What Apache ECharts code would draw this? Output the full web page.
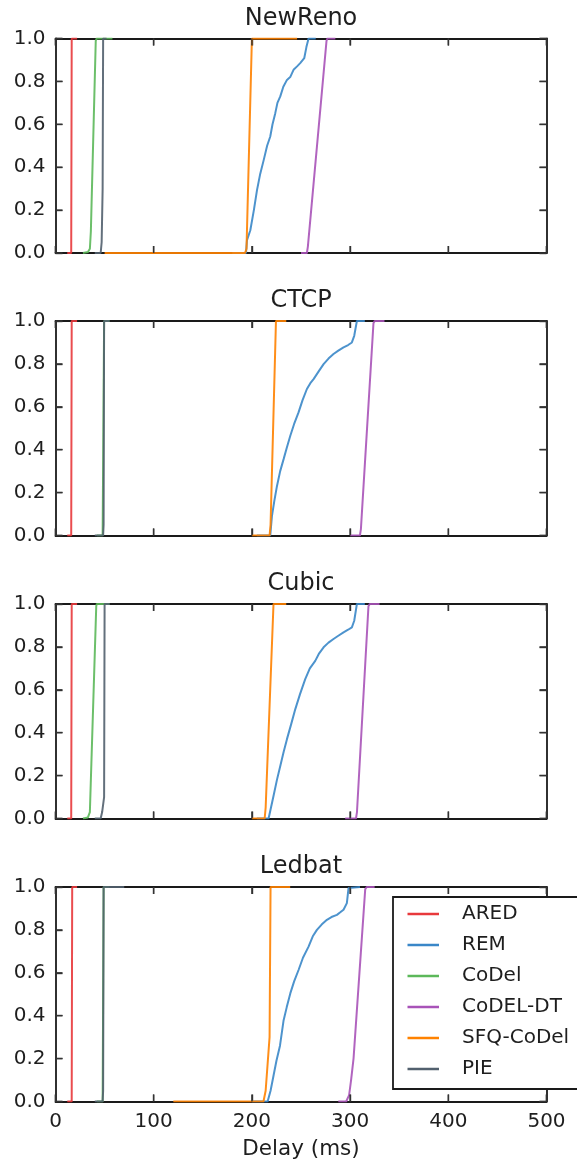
<!DOCTYPE html>
<html>
<head>
<meta charset="utf-8">
<script src="https://cdn.jsdelivr.net/npm/echarts@6/dist/echarts.min.js"></script>
<style>
html,body{margin:0;padding:0;background:#fff;}
#chart{width:577px;height:1165px;}
</style>
</head>
<body>
<div id="chart"></div>
<script>
// ---------- DATA ----------
const panelTitles = ['NewReno', 'CTCP', 'Cubic', 'Ledbat'];
const seriesNames = ['ARED', 'REM', 'CoDel', 'CoDEL-DT', 'SFQ-CoDel', 'PIE'];
const xTicks = [0, 100, 200, 300, 400, 500];
const yTicks = [0.0, 0.2, 0.4, 0.6, 0.8, 1.0];
const xLabel = 'Delay (ms)';

// [delay (ms), CDF]
const newrenoARED = [[12,0],[16,0],[16.5,1],[22,1]];
const newrenoREM = [[180,0],[194,0],[195,0.06],[198.4,0.106],[202,0.2],[205.2,0.293],[208.5,0.37],[212,0.433],[215.5,0.5],[218.7,0.543],[221,0.6],[223.8,0.652],[226,0.7],[228.9,0.73],[232,0.775],[235.7,0.807],[239,0.82],[242.4,0.854],[246,0.87],[249.2,0.885],[253.3,0.908],[255.5,0.96],[257.7,1],[265,1]];
const newrenoCoDel = [[28,0],[33,0.005],[35,0.02],[36,0.1],[41,0.99],[42,1],[58,1]];
const newrenoCoDELDT = [[250,0],[256,0],[257,0.03],[276,0.99],[277,1],[285,1]];
const newrenoSFQ = [[50,0],[193,0],[194.5,0.02],[200,1],[246,1]];
const newrenoPIE = [[40,0],[46,0],[47,0.05],[48,0.3],[48.5,1],[52,1]];

const ctcpARED = [[12,0],[16,0],[16.5,1],[22,1]];
const ctcpREM = [[205,0],[218.7,0],[220.4,0.09],[222.8,0.16],[225.5,0.23],[228.8,0.3],[232.3,0.356],[235.6,0.41],[239.1,0.465],[243,0.52],[247.5,0.574],[251.5,0.63],[256,0.683],[259.5,0.71],[262.8,0.729],[268,0.765],[273,0.799],[278,0.825],[283.1,0.846],[288,0.862],[293.3,0.877],[298,0.888],[301.8,0.9],[304.2,0.931],[306.9,1],[315,1]];
const ctcpCoDel = [[42,0],[48,0],[49.5,1],[55,1]];
const ctcpCoDELDT = [[300,0],[310,0],[311,0.03],[323.8,0.99],[325,1],[335,1]];
const ctcpSFQ = [[200,0],[218,0],[219,0.05],[224.5,1],[235,1]];
const ctcpPIE = [[40,0],[48.5,0],[49,0.05],[49.5,1],[55,1]];

const cubicARED = [[12,0],[16,0],[16.5,1],[22,1]];
const cubicREM = [[205,0],[217,0],[222,0.105],[225.5,0.18],[228.9,0.245],[232.3,0.31],[235.7,0.37],[240,0.44],[244.2,0.51],[249,0.58],[254.3,0.65],[259,0.7],[264.5,0.735],[268.5,0.77],[273,0.798],[278,0.82],[283.1,0.837],[288,0.852],[293.3,0.868],[298,0.88],[301.8,0.891],[304.2,0.922],[306.9,1],[315,1]];
const cubicCoDel = [[28,0],[33,0.005],[35,0.03],[41.5,0.99],[42,1],[55,1]];
const cubicCoDELDT = [[295,0],[306,0],[307,0.03],[318.7,0.99],[320,1],[330,1]];
const cubicSFQ = [[200,0],[213,0],[214,0.05],[222,1],[235,1]];
const cubicPIE = [[40,0],[46,0],[47.5,0.03],[49.5,0.1],[50,1],[55,1]];

const ledbatARED = [[12,0],[16.5,0],[17,1],[22,1]];
const ledbatREM = [[200,0],[216,0],[219,0.05],[222,0.12],[225,0.19],[228.6,0.26],[232.3,0.379],[235.5,0.44],[239.1,0.504],[243,0.56],[247.5,0.613],[252,0.67],[257.7,0.722],[262,0.77],[266.2,0.8],[271,0.825],[276.4,0.847],[281,0.86],[286.6,0.87],[290,0.882],[293.3,0.894],[296.7,0.925],[298.4,0.995],[299,1],[310,1]];
const ledbatCoDel = [[42,0],[48,0],[49,1],[55,1]];
const ledbatCoDELDT = [[288,0],[296,0],[299,0.03],[301,0.1],[303.5,0.2],[315.4,0.99],[317,1],[325,1]];
const ledbatSFQ = [[120,0],[211.8,0],[214,0.05],[218,0.3],[219,1],[239,1]];
const ledbatPIE = [[40,0],[48,0],[48.5,0.05],[49,1],[70,1]];

const panelData = [
  [newrenoARED, newrenoREM, newrenoCoDel, newrenoCoDELDT, newrenoSFQ, newrenoPIE],
  [ctcpARED, ctcpREM, ctcpCoDel, ctcpCoDELDT, ctcpSFQ, ctcpPIE],
  [cubicARED, cubicREM, cubicCoDel, cubicCoDELDT, cubicSFQ, cubicPIE],
  [ledbatARED, ledbatREM, ledbatCoDel, ledbatCoDELDT, ledbatSFQ, ledbatPIE]
];

// ---------- STYLE ----------
const colors = ['#e8393c', '#3a87c8', '#5cb85a', '#a853b8', '#ff8200', '#52606e'];
const FONT = 'DejaVu Sans';
const TXT = '#1e1e1e';
const gridTops = [38.5, 321, 604, 887];
const gridH = 214.5;
const gridLeft = 55.5, gridRight = 30.5;
const TICK_LEN = 7;

const chart = echarts.init(document.getElementById('chart'));

const grids = [], xAxes = [], yAxes = [], series = [], graphics = [];
function mkLine() { return {show: true, onZero: false, lineStyle: {color: '#1a1a1a', width: 1.8}}; }
function mkTick() { return {show: true, inside: true, length: TICK_LEN, lineStyle: {color: '#333333', width: 1.4}}; }
const xMin = xTicks[0], xMax = xTicks[xTicks.length - 1], xInt = xTicks[1] - xTicks[0];
const yMin = yTicks[0], yMax = yTicks[yTicks.length - 1], yInt = 0.2;

// tick marks on all four sides: [x, y, side] side 0=bottom 1=top 2=left 3=right
const tickMarks = [];
xTicks.forEach(v => { tickMarks.push([v, yMin, 0]); tickMarks.push([v, yMax, 1]); });
yTicks.forEach(v => { tickMarks.push([xMin, v, 2]); tickMarks.push([xMax, v, 3]); });

function renderTick(params, api) {
  const side = api.value(2);
  const p = api.coord([api.value(0), api.value(1)]);
  let x2 = p[0], y2 = p[1];
  if (side === 0) y2 -= TICK_LEN;
  else if (side === 1) y2 += TICK_LEN;
  else if (side === 2) x2 += TICK_LEN;
  else x2 -= TICK_LEN;
  return {type: 'line', shape: {x1: p[0], y1: p[1], x2: x2, y2: y2},
    style: {stroke: '#333333', lineWidth: 1.4}};
}

gridTops.forEach((top, i) => {
  grids.push({left: gridLeft, right: gridRight, top: top, height: gridH});
  const last = i === gridTops.length - 1;
  const xi = xAxes.length, yi = yAxes.length;
  xAxes.push({type: 'value', gridIndex: i, position: 'bottom', min: xMin, max: xMax, interval: xInt,
    splitLine: {show: false}, axisLine: mkLine(), axisTick: mkTick(),
    axisLabel: {show: last, margin: 10, fontSize: 20, color: TXT, fontFamily: FONT},
    name: last ? xLabel : '', nameLocation: 'middle', nameGap: 37,
    nameTextStyle: {fontSize: 21.5, color: TXT, fontFamily: FONT}});
  xAxes.push({type: 'value', gridIndex: i, position: 'top', min: xMin, max: xMax, interval: xInt,
    splitLine: {show: false}, axisLine: mkLine(), axisTick: mkTick(), axisLabel: {show: false}});
  yAxes.push({type: 'value', gridIndex: i, position: 'left', min: yMin, max: yMax, interval: yInt,
    splitLine: {show: false}, axisLine: mkLine(), axisTick: mkTick(),
    axisLabel: {show: true, margin: 10, fontSize: 20, color: TXT, fontFamily: FONT,
      formatter: v => v.toFixed(1)}});
  yAxes.push({type: 'value', gridIndex: i, position: 'right', min: yMin, max: yMax, interval: yInt,
    splitLine: {show: false}, axisLine: mkLine(), axisTick: mkTick(), axisLabel: {show: false}});

  panelData[i].forEach((d, k) => {
    series.push({
      type: 'line', name: seriesNames[k], data: d,
      xAxisIndex: xi, yAxisIndex: yi,
      showSymbol: false, symbol: 'none',
      lineStyle: {color: colors[k], width: 2, opacity: 0.9},
      itemStyle: {color: colors[k]}
    });
  });

  series.push({
    type: 'custom', coordinateSystem: 'cartesian2d', xAxisIndex: xi, yAxisIndex: yi,
    data: tickMarks, renderItem: renderTick, silent: true, z: 4, clip: false,
    itemStyle: {color: '#333333'}
  });

  graphics.push({type: 'text', x: gridLeft + (577 - gridLeft - gridRight) / 2, y: top - 20,
    style: {text: panelTitles[i], fontSize: 24, fontFamily: FONT, fill: TXT,
      align: 'center', verticalAlign: 'middle'}});
});

chart.setOption({
  animation: false,
  backgroundColor: '#fff',
  color: colors,
  grid: grids,
  xAxis: xAxes,
  yAxis: yAxes,
  series: series,
  graphic: graphics,
  legend: {
    data: seriesNames,
    orient: 'vertical',
    left: 393, top: 897,
    padding: [7, 60, 10, 14.5],
    itemGap: 11,
    itemWidth: 31.5, itemHeight: 2.5,
    icon: 'rect',
    backgroundColor: '#fff',
    borderColor: '#1a1a1a', borderWidth: 1.8,
    textStyle: {fontSize: 20, lineHeight: 20, color: TXT, fontFamily: FONT, padding: [0, 0, 0, 18]},
    z: 10,
    selectedMode: false
  }
});
</script>
</body>
</html>
